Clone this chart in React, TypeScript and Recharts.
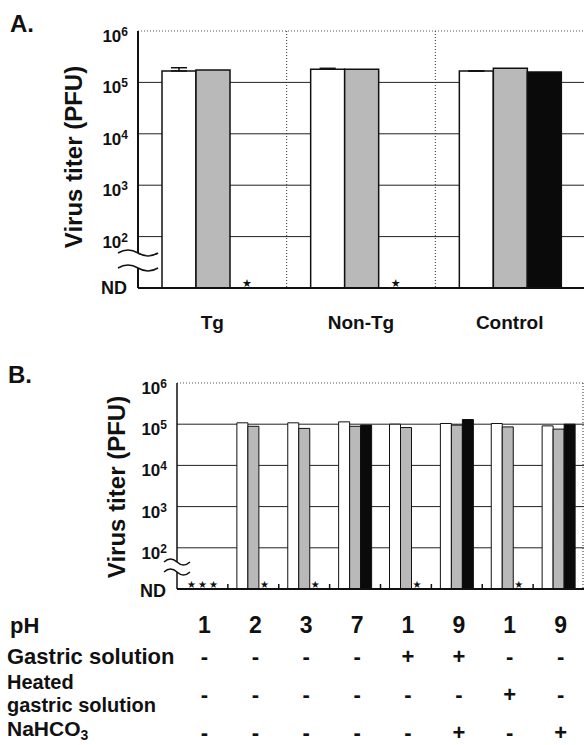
import React from "react";
import { BarChart, Bar, XAxis, YAxis, CartesianGrid, ErrorBar, LabelList, Rectangle } from "recharts";

const ND = 10; // "not detected" sits on the axis floor
const FONT = "'Liberation Sans', Arial, sans-serif";
const INK = "#111";
const GRAY = "#b9b9b9";

// Panel A
const groupsA = ["Tg", "Non-Tg", "Control"];
const whiteA = [1.67e5, 1.8e5, 1.67e5];
const grayA = [1.74e5, 1.8e5, 1.88e5];
const blackA: (number | null)[] = [null, null, 1.59e5];
const whiteErrA = [2.6e4, 0.8e4, 0];

// Panel B
const phB = ["1", "2", "3", "7", "1", "9", "1", "9"];
const gastricB = ["-", "-", "-", "-", "+", "+", "-", "-"];
const heatedB = ["-", "-", "-", "-", "-", "-", "+", "-"];
const nahco3B = ["-", "-", "-", "-", "-", "+", "-", "+"];
const whiteB: (number | null)[] = [null, 1.08e5, 1.08e5, 1.14e5, 1.0e5, 1.04e5, 1.04e5, 0.91e5];
const grayB: (number | null)[] = [null, 0.89e5, 0.79e5, 0.89e5, 0.83e5, 0.95e5, 0.86e5, 0.76e5];
const blackB: (number | null)[] = [null, null, null, 0.95e5, null, 1.3e5, null, 1.0e5];

const titerTicks = [10, 1e2, 1e3, 1e4, 1e5, 1e6];

const dataA = groupsA.map((g, i) => ({
  name: g,
  white: whiteA[i] ?? ND,
  gray: grayA[i] ?? ND,
  black: blackA[i] ?? ND,
  err: [0, whiteErrA[i]],
}));

const dataB = phB.map((ph, i) => ({
  name: `${ph}-${i}`,
  ph,
  gastric: gastricB[i],
  heated: heatedB[i],
  nahco3: nahco3B[i],
  white: whiteB[i] ?? ND,
  gray: grayB[i] ?? ND,
  black: blackB[i] ?? ND,
}));

const makeYTick = (breakHalf: number, breakHi: number, breakLo: number, ndDy: number) =>
  (props: any) => {
    const { x, y, payload } = props;
    const v = payload.value;
    if (v === ND) {
      const wave = (yc: number) =>
        `M ${x - breakHalf} ${yc} q ${breakHalf / 2} -6 ${breakHalf} 0 t ${breakHalf} 0`;
      return (
        <g>
          <rect x={x - 3} y={y - breakHi} width={6} height={breakHi - breakLo} fill="#fff" />
          <path d={wave(y - breakHi)} stroke={INK} strokeWidth={1.5} fill="none" />
          <path d={wave(y - breakLo)} stroke={INK} strokeWidth={1.5} fill="none" />
          <text x={x - 11} y={y + ndDy} textAnchor="end" fontFamily={FONT} fontWeight="bold" fontSize={18} fill={INK}>
            ND
          </text>
        </g>
      );
    }
    const exp = Math.round(Math.log10(v));
    return (
      <text x={x - 10} y={y + 11} textAnchor="end" fontFamily={FONT} fontWeight="bold" fontSize={17} fill={INK}>
        10
        <tspan dy={-6} fontSize={12}>
          {exp}
        </tspan>
      </text>
    );
  };

// not-detected bars are kept (so the star label has a place) but not drawn
const hideND = (raw: (number | null)[]) => (props: any) =>
  raw[props.index] === null ? <g /> : <Rectangle {...props} />;

// star over a "not detected" bar
const starLabel = (raw: (number | null)[], size: number) => (props: any) => {
  const { x, y, width, index } = props;
  if (raw[index] !== null) return null;
  return (
    <text x={x + width / 2} y={y} textAnchor="middle" fontFamily="'DejaVu Sans'" fontSize={size} fill={INK}>
      ★
    </text>
  );
};

const gridLine = (p: any) => {
  const top = p.index === titerTicks.length - 1;
  return (
    <line
      key={`h-${p.index}`}
      x1={p.x1}
      y1={p.y1}
      x2={p.x2}
      y2={p.y2}
      stroke={top ? "#555" : "#222"}
      strokeWidth={1}
      strokeDasharray={top ? "1 2" : undefined}
    />
  );
};

const dottedLine = (p: any) => (
  <line key={`v-${p.index}`} x1={p.x1} y1={p.y1} x2={p.x2} y2={p.y2} stroke="#333" strokeWidth={1} strokeDasharray="1 2" />
);

const GroupTickA = (props: any) => {
  const { x, y, payload } = props;
  return (
    <text x={x} y={y + 41} textAnchor="middle" fontFamily={FONT} fontWeight="bold" fontSize={19} fill={INK}>
      {payload.value}
    </text>
  );
};

const TableTickB = (props: any) => {
  const { x, y, payload, index } = props;
  const row = dataB[index];
  const half = payload.offset ?? 0;
  const sym = { fontFamily: FONT, fontWeight: "bold" as const, fontSize: 22, fill: INK, textAnchor: "middle" as const };
  return (
    <g>
      {index > 0 && <line x1={x - half} y1={y} x2={x - half} y2={y - 5} stroke={INK} strokeWidth={1.5} />}
      <text x={x + 2} y={y + 44} {...sym} fontSize={23}>
        {row.ph}
      </text>
      <text x={x + 2} y={y + 75} {...sym}>{row.gastric}</text>
      <text x={x + 2} y={y + 113} {...sym}>{row.heated}</text>
      <text x={x + 2} y={y + 151} {...sym}>{row.nahco3}</text>
    </g>
  );
};

const rowLabel = { fontFamily: FONT, fontWeight: "bold" as const, fontSize: 22, fill: INK };

export default function App() {
  return (
    <div style={{ position: "absolute", left: 0, top: 0, width: 584, height: 745, overflow: "hidden", background: "#fff" }}>
      <div style={{ position: "absolute", left: 0, top: 0 }}>
        <BarChart width={584} height={340} data={dataA} margin={{ top: 31, right: 0, bottom: 0, left: 0 }} barCategoryGap={24} barGap={0}>
          <CartesianGrid
            horizontal={gridLine}
            vertical={dottedLine}
            verticalCoordinatesGenerator={(p: any) => [1, 2].map((i) => p.offset.left + (p.offset.width * i) / 3)}
          />
          <XAxis dataKey="name" height={52} tickSize={0} tickMargin={0} tickLine={false} interval={0}
            axisLine={{ stroke: INK, strokeWidth: 2 }} tick={GroupTickA} />
          <YAxis type="number" scale="log" domain={[10, 1e6]} ticks={titerTicks} allowDataOverflow width={138}
            tickSize={0} tickMargin={0} tickLine={false} axisLine={{ stroke: INK, strokeWidth: 2 }}
            tick={makeYTick(20, 35, 20, 6)} />
          <Bar dataKey="white" fill="#fff" stroke={INK} strokeWidth={1.5} isAnimationActive={false}>
            <ErrorBar dataKey="err" width={8} stroke={INK} strokeWidth={1.5} direction="y" />
          </Bar>
          <Bar dataKey="gray" fill={GRAY} stroke={INK} strokeWidth={1.5} isAnimationActive={false} />
          <Bar dataKey="black" fill="#0a0a0a" stroke={INK} strokeWidth={1.5} minPointSize={1}
            shape={hideND(blackA)} isAnimationActive={false}>
            <LabelList dataKey="black" content={starLabel(blackA, 11)} />
          </Bar>
        </BarChart>
      </div>

      <div style={{ position: "absolute", left: 0, top: 340 }}>
        <BarChart width={584} height={405} data={dataB} margin={{ top: 43, right: 0, bottom: 0, left: 0 }} barCategoryGap={9} barGap={0}>
          <CartesianGrid
            horizontal={gridLine}
            vertical={dottedLine}
            verticalCoordinatesGenerator={(p: any) => [p.offset.left + p.offset.width - 1]}
          />
          <XAxis dataKey="name" height={156} tickSize={0} tickMargin={0} tickLine={false} interval={0}
            axisLine={{ stroke: INK, strokeWidth: 2 }} tick={TableTickB} />
          <YAxis type="number" scale="log" domain={[10, 1e6]} ticks={titerTicks} allowDataOverflow width={177}
            tickSize={0} tickMargin={0} tickLine={false} axisLine={{ stroke: INK, strokeWidth: 1.5 }}
            tick={makeYTick(13, 27, 17, 8)} />
          <Bar dataKey="white" fill="#fff" stroke={INK} strokeWidth={1} minPointSize={1}
            shape={hideND(whiteB)} isAnimationActive={false}>
            <LabelList dataKey="white" content={starLabel(whiteB, 10)} />
          </Bar>
          <Bar dataKey="gray" fill={GRAY} stroke={INK} strokeWidth={1} minPointSize={1}
            shape={hideND(grayB)} isAnimationActive={false}>
            <LabelList dataKey="gray" content={starLabel(grayB, 10)} />
          </Bar>
          <Bar dataKey="black" fill="#0a0a0a" stroke={INK} strokeWidth={1} minPointSize={1}
            shape={hideND(blackB)} isAnimationActive={false}>
            <LabelList dataKey="black" content={starLabel(blackB, 10)} />
          </Bar>
        </BarChart>
      </div>

      <svg width={584} height={745} style={{ position: "absolute", left: 0, top: 0, pointerEvents: "none" }}>
        <text x={10} y={32} fontFamily={FONT} fontWeight="bold" fontSize={24} fill={INK}>A.</text>
        <text x={8} y={383} fontFamily={FONT} fontWeight="bold" fontSize={24} fill={INK}>B.</text>
        <text transform="translate(82,157) rotate(-90)" textAnchor="middle" fontFamily={FONT} fontWeight="bold" fontSize={24} fill={INK}>
          Virus titer (PFU)
        </text>
        <text transform="translate(125,487) rotate(-90)" textAnchor="middle" fontFamily={FONT} fontWeight="bold" fontSize={24} fill={INK}>
          Virus titer (PFU)
        </text>
        <text x={10} y={633} {...rowLabel}>pH</text>
        <text x={7} y={664} {...rowLabel}>Gastric solution</text>
        <text x={7} y={689} {...rowLabel} fontSize={20}>Heated</text>
        <text x={7} y={712} {...rowLabel} fontSize={20}>gastric solution</text>
        <text x={7} y={736} {...rowLabel} fontSize={21}>
          NaHCO<tspan dy={4} fontSize={14}>3</tspan>
        </text>
      </svg>
    </div>
  );
}
